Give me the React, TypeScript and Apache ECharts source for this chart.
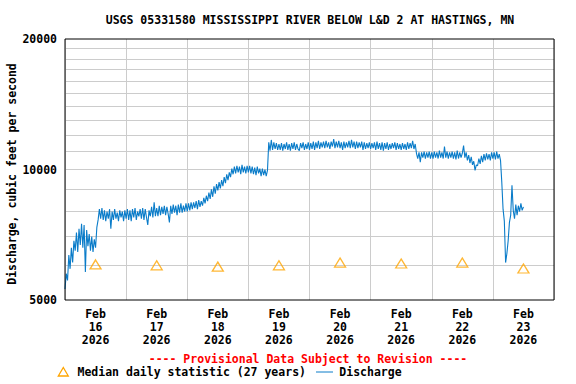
import React, { useEffect, useRef } from "react";
import * as echarts from "echarts";

const TITLE = "USGS 05331580 MISSISSIPPI RIVER BELOW L&D 2 AT HASTINGS, MN";
const Y_TITLE = "Discharge, cubic feet per second";
const PROVISIONAL = "---- Provisional Data Subject to Revision ----";
const MEDIAN_NAME = "Median daily statistic (27 years)";
const DISCHARGE_NAME = "Discharge";

const dayLabels = ["16", "17", "18", "19", "20", "21", "22", "23"];
const monthLabel = "Feb";
const yearLabel = "2026";

// median daily statistic, one per day (plotted at noon)
const medianValues = [6040, 6010, 5970, 6010, 6100, 6070, 6100, 5910];

// gridline values on the log axis
const gridValues = [6000, 7000, 8000, 9000, 10000, 11000, 12000, 13000, 14000, 15000, 16000, 17000, 18000, 19000];

// discharge, every 0.5 hour from Feb 16 00:00
const STEP_HOURS = 0.5;
const discharge = [
  5300, 5750, 5550, 6350, 5900, 6600, 6100, 6850, 6500, 7150, 6450, 7300,
  6700, 7500, 6600, 7450, 5800, 7250, 6650, 7100, 6500, 7000, 6450, 6900,
  6600, 7350, 7650, 8100, 7700, 8150, 7650, 8050, 7600, 8000, 7700, 8100,
  7300, 8000, 7650, 8100, 7700, 7950, 7600, 8050, 7750, 8000, 7600, 8050,
  7700, 8100, 7650, 8050, 7600, 8100, 7750, 8150, 7650, 8000, 7800, 8100,
  7700, 8150, 7650, 8100, 7750, 7450, 8050, 7800, 8200, 7750, 8400, 7800,
  8150, 7800, 8250, 7850, 8200, 7900, 8250, 7850, 8200, 7900, 7550, 8250,
  7900, 8300, 7950, 8250, 7850, 8300, 7950, 8350, 7950, 8250, 8000, 8350,
  8000, 8350, 8050, 8400, 8100, 8400, 8150, 8450, 8100, 8500, 8200, 8450,
  8250, 8600, 8350, 8700, 8450, 8850, 8550, 9000, 8650, 9150, 8800, 9250,
  8950, 9350, 9050, 9450, 9150, 9600, 9300, 9750, 9450, 9850, 9600, 10050,
  9750, 10150, 9800, 10200, 9850, 10150, 9750, 10250, 9850, 10150, 9800, 10200,
  9850, 10200, 9800, 10150, 9750, 10100, 9700, 10150, 9800, 10050, 9650, 10050,
  9700, 10000, 9650, 9950, 11550, 11050, 11700, 11100, 11550, 11150, 11500, 11100,
  11450, 11100, 11500, 11050, 11450, 11150, 11550, 11100, 11450, 11050, 11500, 11150,
  11550, 11100, 11450, 11150, 11050, 11500, 11200, 11550, 11100, 11450, 11150, 11550,
  11100, 11500, 11150, 11600, 11100, 11550, 11200, 11650, 11150, 11550, 11250, 11600,
  11200, 11650, 11250, 11550, 11150, 11600, 11300, 11750, 11200, 11600, 11250, 11650,
  11200, 11550, 11100, 11600, 11200, 11550, 11250, 11650, 11200, 11700, 11250, 11600,
  11150, 11600, 11200, 11550, 11250, 11600, 11100, 11550, 11150, 11500, 11200, 11550,
  11150, 11500, 11200, 11550, 11100, 11600, 11150, 11500, 11100, 11550, 11050, 11500,
  11150, 11550, 11100, 11450, 11150, 11500, 11200, 11550, 11100, 11500, 11150, 11450,
  11100, 11500, 11150, 11450, 11100, 11550, 11150, 11500, 11200, 11650, 11150, 11450,
  10900, 10600, 10950, 10400, 10950, 10650, 11000, 10600, 10950, 10650, 11000, 10600,
  10950, 10600, 11000, 10650, 10950, 10600, 11050, 10650, 10950, 10600, 11300, 10650,
  11000, 10600, 10950, 10650, 11000, 10600, 10950, 10550, 11050, 10600, 10950, 10650,
  10900, 11350, 10650, 10950, 10500, 10800, 10350, 10700, 10250, 10450, 9950, 10250,
  10200, 10600, 10300, 10750, 10400, 10850, 10500, 10900, 10550, 10850, 10500, 10950,
  10600, 10950, 10550, 11000, 10600, 10850, 10500, 9350, 8100, 7600, 6100, 6400,
  6850, 7550, 7850, 9200, 8050, 7700, 8300, 7850, 8250, 8000, 8350, 8050,
  8200,
];

const FONT = "'DejaVu Sans Mono', 'Liberation Mono', monospace";

export default function App() {
  const ref = useRef<HTMLDivElement>(null);

  useEffect(() => {
    if (!ref.current) return;
    const chart = echarts.init(ref.current, null, { renderer: "svg" });

    const dischargeData = discharge.map((v, i) => [i * STEP_HOURS, v]);
    const medianData = medianValues.map((v, i) => [i * 24 + 12, v]);

    const textBase = { fontFamily: FONT, fontWeight: "bold", fontSize: 11.5, fill: "#000" };

    chart.setOption({
      animation: false,
      backgroundColor: "#fff",
      grid: {
        left: 65,
        top: 39,
        width: 489,
        height: 261,
        show: true,
        borderColor: "#000",
        borderWidth: 1,
        backgroundColor: "transparent",
        z: 4,
      },
      xAxis: [
        {
          type: "value",
          min: 0,
          max: 192,
          interval: 24,
          axisLine: { show: false },
          axisTick: { show: false },
          axisLabel: { show: false },
          splitLine: { show: true, lineStyle: { color: "#cccccc", width: 1 } },
        },
        {
          type: "category",
          position: "bottom",
          data: dayLabels,
          boundaryGap: true,
          axisLine: { show: false },
          axisTick: { show: false },
          splitLine: { show: false },
          axisLabel: {
            interval: 0,
            margin: 7,
            fontFamily: FONT,
            fontWeight: "bold",
            fontSize: 11.5,
            lineHeight: 13,
            color: "#000",
            formatter: (d: string) => `${monthLabel}\n${d}\n${yearLabel}`,
          },
        },
      ],
      yAxis: {
        type: "log",
        logBase: 10,
        min: 5000,
        max: 20000,
        axisLine: { show: false },
        axisTick: { show: false },
        splitLine: { show: false },
        minorSplitLine: { show: false },
        axisLabel: {
          margin: 8,
          fontFamily: FONT,
          fontWeight: "bold",
          fontSize: 11.5,
          color: "#000",
          formatter: (v: number) => String(Math.round(v)),
        },
      },
      series: [
        {
          name: "grid",
          type: "line",
          data: [],
          silent: true,
          markLine: {
            silent: true,
            z: 1,
            symbol: ["none", "none"],
            label: { show: false },
            lineStyle: { color: "#cccccc", type: "solid", width: 1 },
            data: gridValues.map((v) => ({ yAxis: v })),
          },
        },
        {
          name: DISCHARGE_NAME,
          type: "line",
          z: 3,
          data: dischargeData,
          showSymbol: false,
          symbol: "none",
          lineStyle: { color: "#0a7cc9", width: 1.1 },
        },
        {
          name: MEDIAN_NAME,
          type: "scatter",
          z: 3,
          data: medianData,
          symbol: "triangle",
          symbolSize: [11, 9],
          itemStyle: { color: "transparent", borderColor: "#ffa500", borderWidth: 1.3 },
        },
      ],
      graphic: [
        {
          type: "text",
          x: 310,
          y: 20,
          style: { ...textBase, text: TITLE, align: "center", verticalAlign: "middle" },
        },
        {
          type: "text",
          x: 12,
          y: 174,
          rotation: Math.PI / 2,
          style: { ...textBase, text: Y_TITLE, align: "center", verticalAlign: "middle" },
        },
        {
          type: "text",
          x: 308,
          y: 359,
          style: { ...textBase, fill: "#ff0000", text: PROVISIONAL, align: "center", verticalAlign: "middle" },
        },
        {
          type: "polygon",
          shape: { points: [[58.3, 376], [68.3, 376], [63.3, 367.5]] },
          style: { fill: "none", stroke: "#ffa500", lineWidth: 1.3 },
        },
        {
          type: "text",
          x: 77.5,
          y: 372,
          style: { ...textBase, text: MEDIAN_NAME, align: "left", verticalAlign: "middle" },
        },
        {
          type: "line",
          shape: { x1: 316, y1: 372, x2: 333, y2: 372 },
          style: { stroke: "#0a7cc9", lineWidth: 1 },
        },
        {
          type: "text",
          x: 339.3,
          y: 372,
          style: { ...textBase, text: DISCHARGE_NAME, align: "left", verticalAlign: "middle" },
        },
      ],
    });

    return () => chart.dispose();
  }, []);

  return (
    <div
      ref={ref}
      style={{ position: "fixed", left: 0, top: 0, width: 576, height: 384, background: "#fff" }}
    />
  );
}
